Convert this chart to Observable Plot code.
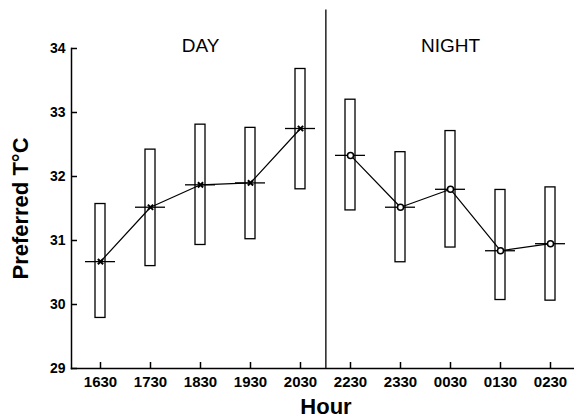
<!DOCTYPE html>
<html>
<head>
<meta charset="utf-8">
<script src="https://cdn.jsdelivr.net/npm/d3@7"></script>
<script src="https://cdn.jsdelivr.net/npm/@observablehq/plot@0.6"></script>
<style>
  html, body { margin: 0; padding: 0; background: #fff; overflow: hidden; }
  #chart svg { display: block; }
</style>
</head>
<body>
<div id="chart"></div>
<script>
// ---- data ----
const hours  = ["1630","1730","1830","1930","2030","2230","2330","0030","0130","0230"];
const period = ["DAY","DAY","DAY","DAY","DAY","NIGHT","NIGHT","NIGHT","NIGHT","NIGHT"];
const means  = [30.67, 31.52, 31.87, 31.90, 32.75, 32.33, 31.52, 31.80, 30.84, 30.95];
const upper  = [31.57, 32.42, 32.81, 32.76, 33.68, 33.20, 32.38, 32.71, 31.79, 31.83];
const lower  = [29.79, 30.60, 30.93, 31.02, 31.80, 31.47, 30.66, 30.89, 30.07, 30.06];
const yTicks = [29, 30, 31, 32, 33, 34];
const panelLabels = ["DAY", "NIGHT"];
const panelAt = ["1830", "0030"];     // category the panel label is centered over
const dividerAfter = ["2030"];        // divider sits between this hour and the next
const yTitle = "Preferred T°C";
const xTitle = "Hour";

const data = hours.map((h, i) => ({hour: h, period: period[i], mean: means[i], hi: upper[i], lo: lower[i]}));
const dayData = data.filter(d => d.period === "DAY");
const nightData = data.filter(d => d.period === "NIGHT");

const W = 574, H = 419, mL = 71, mR = 0, mT = 48, mB = 51;
const plotW = W - mL - mR, plotH = H - mT - mB;
const font = "'Liberation Sans', Arial, Helvetica, sans-serif";

const chart = Plot.plot({
  width: W,
  height: H,
  marginLeft: mL,
  marginRight: mR,
  marginTop: mT,
  marginBottom: mB,
  style: {fontFamily: font, background: "#fff", color: "#000"},
  x: {type: "band", domain: hours, paddingInner: 0.803, paddingOuter: 0.4015, align: 0.5, insetRight: -4, axis: null},
  y: {domain: [29, 34], axis: null},
  marks: [
    // axis lines
    Plot.frame({anchor: "left", stroke: "#000", strokeWidth: 1.5}),
    Plot.frame({anchor: "bottom", stroke: "#000", strokeWidth: 1.5}),
    // inward y ticks
    Plot.ruleY(yTicks, {y: d => d, insetRight: plotW - 6, stroke: "#000", strokeWidth: 1.5}),
    // inward x ticks
    Plot.ruleX(hours, {x: d => d, insetTop: plotH - 6, stroke: "#000", strokeWidth: 1.5}),
    // y tick labels
    Plot.axisY(yTicks, {tickSize: 0, tickPadding: 6, tickFormat: d3.format("d"), fontSize: 14, fontWeight: "bold", label: null, fill: "#000"}),
    // x tick labels
    Plot.axisX(hours, {tickSize: 0, tickPadding: 8, fontSize: 15, fontWeight: "bold", label: null, fill: "#000"}),
    // day / night divider
    Plot.ruleX(dividerAfter, {x: d => d, y1: 29, y2: 34.6, dx: 25.35, stroke: "#222", strokeWidth: 1.5}),
    // boxes
    Plot.barY(data, {x: "hour", y1: "lo", y2: "hi", fill: "#fff", stroke: "#000", strokeWidth: 1.3}),
    // connecting lines
    Plot.line(data, {x: "hour", y: "mean", z: "period", stroke: "#000", strokeWidth: 1.2}),
    // mean horizontal ticks
    Plot.tickY(data, {x: "hour", y: "mean", insetLeft: -10, insetRight: -10, stroke: "#000", strokeWidth: 1.3}),
    // markers
    Plot.dot(dayData, {x: "hour", y: "mean", r: 2.5, fill: "#000", stroke: "#000", symbol: "times", strokeWidth: 2}),
    Plot.dot(nightData, {x: "hour", y: "mean", r: 3, fill: "#fff", stroke: "#000", strokeWidth: 1.5}),
    // panel labels
    Plot.text(panelLabels, {x: (d, i) => panelAt[i], text: d => d, frameAnchor: "top", lineAnchor: "bottom", dy: 3, fontSize: 19, fill: "#000"}),
    // axis titles
    Plot.text([yTitle], {text: d => d, frameAnchor: "left", textAnchor: "middle", rotate: -90, lineAnchor: "top", dx: -59, fontSize: 22, fontWeight: "bold", fill: "#000"}),
    Plot.text([xTitle], {text: d => d, frameAnchor: "bottom", textAnchor: "middle", lineAnchor: "top", dy: 30, dx: 3, fontSize: 22, fontWeight: "bold", fill: "#000"})
  ]
});
document.getElementById("chart").append(chart);
</script>
</body>
</html>
